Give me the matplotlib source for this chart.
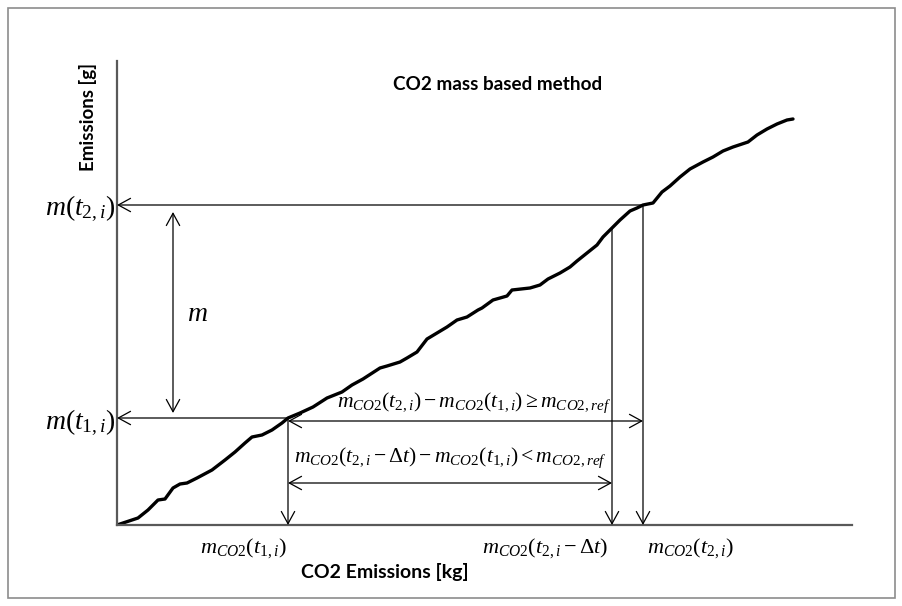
import matplotlib
matplotlib.use("Agg")
from matplotlib import pyplot as plt
from matplotlib.patches import Rectangle

plt.rcParams['mathtext.fontset'] = 'custom'
plt.rcParams['mathtext.rm'] = 'Liberation Serif'
plt.rcParams['mathtext.it'] = 'Liberation Serif:italic'
plt.rcParams['mathtext.bf'] = 'Liberation Serif:bold'

# cumulative CO2 emissions (x) vs cumulative pollutant emissions (y), arbitrary units
co2_mass = [0, 6, 21, 31, 41, 48, 56, 63, 70, 80, 95, 108, 118, 128, 135, 145, 155, 165, 171,
            183, 196, 210, 225, 235, 246, 263, 270, 283, 290, 300, 310, 320, 330, 340, 350, 361,
            365, 376, 390, 395, 413, 423, 431, 443, 453, 460, 470, 480, 486, 495, 503, 513, 520,
            526, 536, 545, 553, 563, 573, 586, 596, 606, 616, 631, 640, 650, 660, 670, 676]
emissions = [0, 2, 7, 15, 25, 26, 37, 41, 42, 47, 55, 65, 73, 82, 88, 90, 95, 102, 107,
             112, 118, 127, 133, 140, 146, 157, 159, 163, 167, 173, 186, 192, 198, 205, 208, 215,
             217, 225, 229, 235, 237, 240, 246, 252, 258, 264, 272, 280, 288, 297, 305, 314, 317,
             320, 322, 333, 339, 348, 356, 363, 368, 374, 378, 383, 390, 396, 401, 405, 406]

# window points
t1 = (171, 107)
t2 = (526, 320)
t2_dt = (495, 297)

fig = plt.figure(figsize=(9.03, 6.06), dpi=100)
fig.patches.append(Rectangle((8 / 903, 8 / 606), 887 / 903, 590 / 606, transform=fig.transFigure,
                             fill=False, edgecolor='#8c8c8c', lw=1.2))
ax = fig.add_axes([117 / 903, 81 / 606, 735 / 903, 464 / 606])
ax.set_xlim(0, 735)
ax.set_ylim(0, 464)
for s in ['top', 'right']:
    ax.spines[s].set_visible(False)
for s in ['left', 'bottom']:
    ax.spines[s].set_color('#595959')
    ax.spines[s].set_linewidth(1.6)
ax.set_xticks([])
ax.set_yticks([])

ax.plot(co2_mass, emissions, color='black', lw=2.4, solid_capstyle='round')

arrow = dict(arrowstyle='->,head_length=0.55,head_width=0.3', lw=0.9, color='black',
             shrinkA=0, shrinkB=0, mutation_scale=16)
darrow = dict(arrow, arrowstyle='<->,head_length=0.55,head_width=0.3')

# projections onto the axes
for (px, py) in [t1, t2]:
    ax.annotate('', xy=(0, py), xytext=(px, py), arrowprops=arrow)
for (px, py) in [t1, t2, t2_dt]:
    ax.annotate('', xy=(px, 0), xytext=(px, py), arrowprops=arrow)

# mass difference and window widths
ax.annotate('', xy=(56, 313), xytext=(56, 112), arrowprops=darrow)
ax.annotate('', xy=(t1[0], 104), xytext=(t2[0], 104), arrowprops=darrow)
ax.annotate('', xy=(t1[0], 42), xytext=(t2_dt[0], 42), arrowprops=darrow)

fs = 15.6
fs_big = 20
fs_x = 16
ax.text(80, 212, r'$m$', fontsize=fs_big, ha='center', va='center')
ax.text(220, 110, r'$m_{CO2}(t_{2,i})-m_{CO2}(t_{1,i})\geq m_{CO2,ref}$', fontsize=fs,
        ha='left', va='bottom')
ax.text(177, 55, r'$m_{CO2}(t_{2,i}-\Delta t)-m_{CO2}(t_{1,i})<m_{CO2,ref}$', fontsize=fs,
        ha='left', va='bottom')
ax.text(-2, t2[1] - 4, r'$m(t_{2,i})$', fontsize=fs_big, ha='right', va='center', clip_on=False)
ax.text(-2, t1[1] - 5, r'$m(t_{1,i})$', fontsize=fs_big, ha='right', va='center', clip_on=False)
ax.text(t1[0] - 1, -11, r'$m_{CO2}(t_{1,i})$', fontsize=fs_x, ha='right', va='top', clip_on=False)
ax.text(t2_dt[0] - 4, -11, r'$m_{CO2}(t_{2,i}-\Delta t)$', fontsize=fs_x, ha='right', va='top',
        clip_on=False)
ax.text(t2[0] + 4, -11, r'$m_{CO2}(t_{2,i})$', fontsize=fs_x, ha='left', va='top', clip_on=False)

fig.text(498 / 903, 1 - 85 / 606, 'CO2 mass based method', fontsize=13.6, fontweight='bold',
         family='Lato', ha='center', va='center')
fig.text(88 / 903, 1 - 117 / 606, 'Emissions [g]', fontsize=13.5, fontweight='bold',
         family='Lato', ha='center', va='center', rotation=90)
fig.text(385 / 903, 1 - 572 / 606, 'CO2 Emissions [kg]', fontsize=14, fontweight='bold',
         family='Lato', ha='center', va='center')

fig.savefig('out.png', dpi=100)
